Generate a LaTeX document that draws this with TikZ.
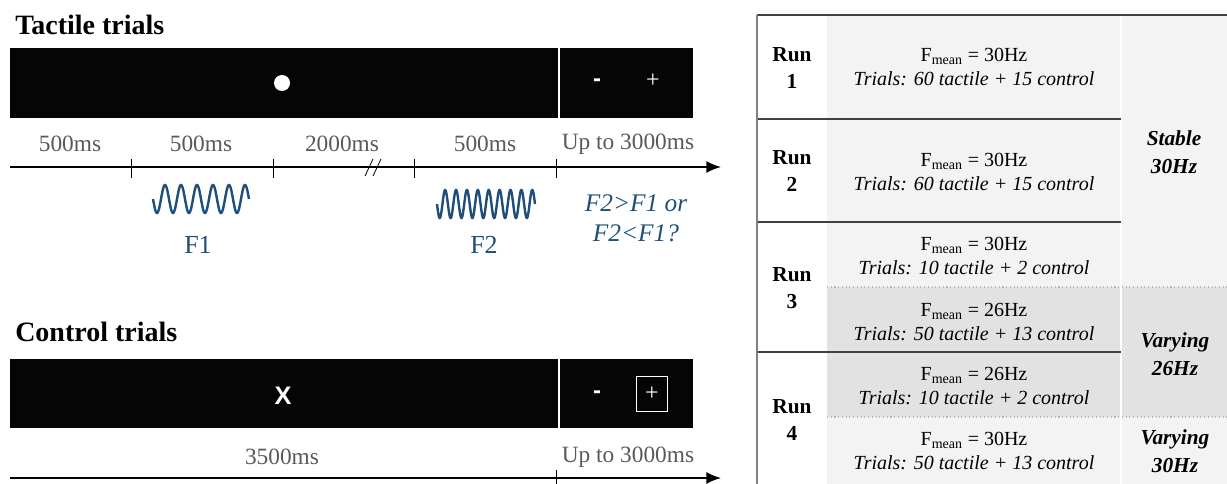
\documentclass[tikz,border=0pt]{standalone}
\usepackage{fontspec}
\setmainfont{Liberation Serif}
\newfontfamily\arialfont{Liberation Sans}
\usetikzlibrary{arrows.meta}

\definecolor{durgray}{HTML}{595959}
\definecolor{waveblue}{HTML}{1F4E79}
\definecolor{celllight}{HTML}{F2F3F2}
\definecolor{celldark}{HTML}{E2E2E2}
\definecolor{rulegray}{HTML}{404040}

\newcommand{\fmean}[1]{F\textsubscript{mean} = #1Hz}

\begin{document}
\begin{tikzpicture}[
  x=0.75pt, y=-0.75pt,
  ttl/.style={anchor=west, inner sep=0pt, font=\fontsize{21}{24}\selectfont\bfseries},
  scr/.style={fill=black!98, draw=none},
  dur/.style={inner sep=0pt, text=durgray, font=\fontsize{17.5}{20}\selectfont},
  tline/.style={line width=1.2pt, -{Latex[length=11pt, width=9pt]}},
  tck/.style={line width=0.6pt},
  wave/.style={line width=1.8pt, waveblue},
  frq/.style={inner sep=0pt, text=waveblue, font=\fontsize{19.5}{23}\selectfont},
  key/.style={inner sep=0pt, text=white, font=\arialfont\bfseries\fontsize{18}{20}\selectfont},
  plus/.style={inner sep=0pt, text=white, font=\fontsize{18}{20}\selectfont},
  cell/.style={inner sep=0pt, align=center, font=\fontsize{15}{18}\selectfont},
  run/.style={inner sep=0pt, align=center, font=\fontsize{16}{20}\selectfont\bfseries},
  cond/.style={inner sep=0pt, align=center, font=\fontsize{16}{21}\selectfont\bfseries\itshape},
  hline/.style={line width=1.5pt, rulegray},
  dline/.style={line width=0.8pt, gray!55, dotted}
]
  \useasboundingbox (0,0) rectangle (1227,484);

  % tactile trials
  \node[ttl] (ttact) at (15,25) {Tactile trials};
  \fill[scr] (10,48) rectangle (558,118);
  \fill[scr] (560,48) rectangle (693,118);
  \fill[white] (282,83) circle (8);
  \node[key] (tminus) at (597,83) {-};
  \node[plus] (tplus) at (653,81) {+};

  \node[dur] (d1) at (70,144)  {500ms};
  \node[dur] (d2) at (201,144) {500ms};
  \node[dur] (d3) at (342,144) {2000ms};
  \node[dur] (d4) at (485,144) {500ms};
  \node[dur] (d5) at (628,144) {Up to 3000ms};

  \coordinate (a0) at (10,167);
  \coordinate (a1) at (721,167);
  \draw[tline] (a0) -- (a1);
  \foreach \tx in {131,273,414,556}
    \draw[tck] (\tx,159) -- (\tx,178);
  \draw[tck] (365,176) -- (373,159);
  \draw[tck] (373,176) -- (381,159);

  \draw[wave] plot[domain=0:2160, samples=240, smooth]
    ({153+\x/2160*96}, {199+14*sin(\x)});
  \draw[wave] plot[domain=0:3240, samples=320, smooth]
    ({437+\x/3240*98}, {204+14*sin(\x)});
  \node[frq] (f1) at (198,245) {F1};
  \node[frq] (f2) at (484,245) {F2};
  \node[frq, align=center, font=\fontsize{19}{22.5}\selectfont\itshape] (ask) at (636,218)
    {F2>F1 or\\F2<F1?};

  % control trials
  \node[ttl] (tctrl) at (15,332) {Control trials};
  \fill[scr] (10,359) rectangle (558,428);
  \fill[scr] (560,359) rectangle (693,428);
  \node[key, font=\arialfont\bfseries\fontsize{19}{20}\selectfont] (cx) at (283,396) {X};
  \node[key] (cminus) at (597,395) {-};
  \node[plus, draw=white, line width=1.2pt, minimum width=23pt, minimum height=26pt] (cplus) at (652,394) {+};

  \node[dur] (d6) at (282,457) {3500ms};
  \node[dur] (d7) at (628,457) {Up to 3000ms};
  \coordinate (b0) at (10,478);
  \coordinate (b1) at (721,478);
  \draw[tline] (b0) -- (b1);
  \draw[tck] (556,470) -- (556,486);

  % table of runs
  \fill[celllight] (827,15) rectangle (1227,287);
  \fill[celldark]  (827,287) rectangle (1227,417);
  \fill[celllight] (827,417) rectangle (1227,484);
  \draw[white, line width=0.8pt] (1121,15) -- (1121,484);
  \draw[dline] (827,287) -- (1227,287);
  \draw[dline] (827,417) -- (1227,417);
  \draw[hline] (757,119) -- (1121,119);
  \draw[hline] (757,222) -- (1121,222);
  \draw[hline] (757,352) -- (1121,352);
  \draw[line width=1.5pt, rulegray] (757,15) -- (1227,15);
  \draw[line width=1pt, gray] (757,15) -- (757,484);

  \node[run] (r1) at (792,68)  {Run\\1};
  \node[run] (r2) at (792,171) {Run\\2};
  \node[run] (r3) at (792,288) {Run\\3};
  \node[run] (r4) at (792,420) {Run\\4};

  \node[cell] (c1) at (974,67)  {\fmean{30}\\\textit{Trials: 60 tactile + 15 control}};
  \node[cell] (c2) at (974,172) {\fmean{30}\\\textit{Trials: 60 tactile + 15 control}};
  \node[cell] (c3) at (974,256) {\fmean{30}\\\textit{Trials: 10 tactile + 2 control}};
  \node[cell] (c4) at (974,322) {\fmean{26}\\\textit{Trials: 50 tactile + 13 control}};
  \node[cell] (c5) at (974,386) {\fmean{26}\\\textit{Trials: 10 tactile + 2 control}};
  \node[cell] (c6) at (974,451) {\fmean{30}\\\textit{Trials: 50 tactile + 13 control}};

  \node[cond] (s1) at (1174,152) {Stable\\30Hz};
  \node[cond] (s2) at (1175,354) {Varying\\26Hz};
  \node[cond] (s3) at (1175,451) {Varying\\30Hz};
\end{tikzpicture}
\end{document}
